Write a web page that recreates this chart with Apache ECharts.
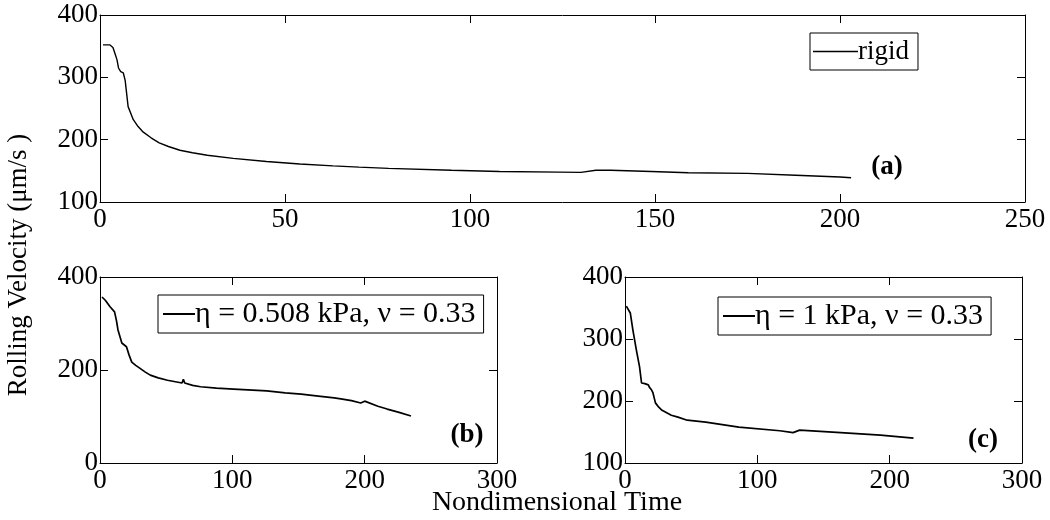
<!DOCTYPE html>
<html>
<head>
<meta charset="utf-8">
<script src="https://cdn.jsdelivr.net/npm/echarts@6/dist/echarts.min.js"></script>
<style>html,body{margin:0;padding:0;background:#fff}#c{width:1050px;height:520px}</style>
</head>
<body>
<div id="c"></div>
<script>
// Panel (a): rigid
const rigidData = [
  [0.8,352],[2.7,352],[3.5,348],[4,339],[4.6,328],[5,315],[5.6,309],[6.3,307],[6.8,295],[7.6,253],[9,232],[10.3,221],[11.7,212],[13.8,203],[16,195],[18.5,189],[21.6,183],
  [25,179],[29,175],[36,170],[45,165],[54,161],[63,158],[70,156],[78,154],[95,151],[108,149],[124,148],
  [130,147.5],[134,151],[138,151],[149,149],[159,147],[175,146],[188,143],[200,140],[203,139]
];
// Panel (b): eta = 0.508 kPa
const softData = [
  [1.5,357],[4,350],[7.6,336],[11,325],[12.5,305],[13.6,286],[16.5,258],[18,255],[20,250],[22,232],[24,217],[27,210],[30,204],[34,196],[38,189],[44,183],[51,178],
  [62,172],[63,180],[64,172],[70,167],[76,164],[88,161],[101,159],[126,155],[140,151],[152,148],[165,144],[177,140],[182,138],[190,134],[197,129],
  [200,133],[201,129],[210,122],[217,116],[226,109],[235,101]
];
// Panel (c): eta = 1 kPa
const stiffData = [
  [1,353],[2.5,350],[4,342],[6,314],[8.6,282],[11,255],[12.5,229],[15,228],[17.6,226],[18.5,222],[20,218],[21,214],[23,197],
  [25.5,190],[28,185],[35,177],[40,174],[47,169],[61,166],[86,158],[117,152],[127,149],[132,153],[163,149],[193,145],[218,140]
];
const seriesNames = ['rigid', '\u03b7 = 0.508 kPa, \u03bd = 0.33', '\u03b7 = 1 kPa, \u03bd = 0.33'];
const panelTags = ['(a)', '(b)', '(c)'];
const xTicksA = [0, 250, 50];
const yTicksA = [100, 400, 100];
const xTicksB = [0, 300, 100];
const yTicksB = [0, 400, 200];
const xTicksC = [0, 300, 100];
const yTicksC = [100, 400, 100];

const FONT = 'Liberation Serif';
const FS = 27;
const chart = echarts.init(document.getElementById('c'), null, {renderer: 'canvas'});

const grids = [
  {left: 100, top: 15, width: 925, height: 187},
  {left: 100, top: 277, width: 397, height: 186},
  {left: 625, top: 277, width: 397, height: 186}
];
const ranges = [[xTicksA, yTicksA], [xTicksB, yTicksB], [xTicksC, yTicksC]];
const xAxes = [], yAxes = [];
ranges.forEach((r, i) => {
  const [xr, yr] = r;
  const common = {
    type: 'value', gridIndex: i,
    axisLine: {show: true, onZero: false, lineStyle: {color: '#000', width: 1}},
    axisTick: {show: true, inside: true, length: 8, lineStyle: {color: '#000', width: 1}},
    splitLine: {show: false}
  };
  xAxes.push(Object.assign({}, common, {position: 'bottom', min: xr[0], max: xr[1], interval: xr[2],
    axisLabel: {color: '#000', fontFamily: FONT, fontSize: FS, margin: 4}}));
  xAxes.push(Object.assign({}, common, {position: 'top', min: xr[0], max: xr[1], interval: xr[2],
    axisLabel: {show: false}}));
  yAxes.push(Object.assign({}, common, {position: 'left', min: yr[0], max: yr[1], interval: yr[2],
    axisLabel: {color: '#000', fontFamily: FONT, fontSize: FS, margin: 2}}));
  yAxes.push(Object.assign({}, common, {position: 'right', min: yr[0], max: yr[1], interval: yr[2],
    axisLabel: {show: false}}));
});

const datasets = [rigidData, softData, stiffData];
const widths = [1.4, 1.7, 1.7];
const series = datasets.map((d, i) => ({
  name: seriesNames[i], type: 'line', data: d, xAxisIndex: 2 * i, yAxisIndex: 2 * i,
  symbol: 'none', showSymbol: false, smooth: false, animation: false,
  lineStyle: {color: '#000', width: widths[i]}, itemStyle: {color: '#000'}
}));

const legendPos = [
  {left: 810, top: 33, itemWidth: 45, h: 1.5, fs: 27, pad: [5, 9, 5, 3]},
  {left: 158, top: 295, itemWidth: 32, h: 2, fs: 30, pad: [4, 8, 4, 5]},
  {left: 718, top: 297, itemWidth: 32, h: 2, fs: 30, pad: [4, 8, 4, 5]}
];
const legends = legendPos.map((p, i) => ({
  data: [seriesNames[i]], left: p.left, top: p.top, orient: 'horizontal',
  itemWidth: p.itemWidth, itemHeight: p.h, icon: 'rect',
  backgroundColor: '#fff', borderColor: '#000', borderWidth: 1, borderRadius: 0,
  padding: p.pad, selectedMode: false,
  textStyle: {color: '#000', fontFamily: FONT, fontSize: p.fs, padding: [0, 0, 0, -5]}
}));

const tagPos = [[887, 167], [467, 435], [983, 440]];
const graphics = tagPos.map((p, i) => ({
  type: 'text', x: p[0], y: p[1],
  style: {text: panelTags[i], font: 'bold ' + FS + 'px ' + FONT, fill: '#000', textAlign: 'center', textVerticalAlign: 'middle'}
}));
graphics.push({type: 'text', x: 19, y: 265, rotation: Math.PI / 2,
  style: {text: 'Rolling Velocity (\u03bcm/s )', font: FS + 'px ' + FONT, fill: '#000', textAlign: 'center', textVerticalAlign: 'middle'}});
graphics.push({type: 'text', x: 557, y: 503,
  style: {text: 'Nondimensional Time', font: '28px ' + FONT, fill: '#000', textAlign: 'center', textVerticalAlign: 'middle'}});

chart.setOption({
  animation: false,
  backgroundColor: '#fff',
  grid: grids,
  xAxis: xAxes,
  yAxis: yAxes,
  legend: legends,
  series: series,
  graphic: graphics
});
</script>
</body>
</html>
